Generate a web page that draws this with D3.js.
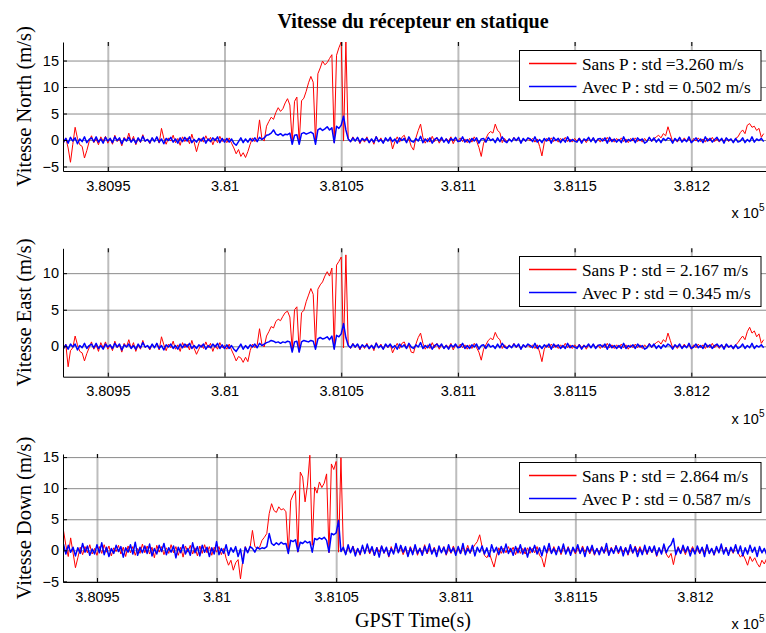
<!DOCTYPE html>
<html>
<head>
<meta charset="utf-8">
<script src="https://cdn.jsdelivr.net/npm/d3@7"></script>
<style>
  body { margin: 0; background: #fff; }
  svg { display: block; }
</style>
</head>
<body>
<div id="chart"></div>
<script>
// receiver epochs (GPST seconds), one every second
const sampleStart = 380931, sampleStep = 1;

// x tick values and their labels (x 10^5)
const xTicks = [380950, 381000, 381050, 381100, 381150, 381200];
const xTickLabels = ["3.8095", "3.81", "3.8105", "3.811", "3.8115", "3.812"];

const seriesNames = ["Sans P", "Avec P"];
const stdNorth = ["3.260", "0.502"];
const stdEast = ["2.167", "0.345"];
const stdDown = ["2.864", "0.587"];

/** North velocity, without / with P */
const northSans = [
  -0.6, 0.4, -1.5, -4.2, -0.8, 2.4, 0.3, -0.9, -1.2, -3.4,
  -2.0, -0.3, 0.8, -0.5, 0.2, -0.9, 0.6, -0.2, 0.7, -0.6,
  0.3, -0.8, 0.9, -0.3, 0.2, -1.1, 0.5, -0.2, 1.3, -0.4,
  0.7, -0.9, 0.3, -0.5, 1.0, -0.3, 0.2, -0.7, 0.4, -0.2,
  0.5, -0.6, 2.2, 0.3, -0.8, 0.4, -0.2, 0.9, -0.5, 0.3,
  -1.0, 0.6, -0.3, 0.4, -0.7, 1.1, -0.4, -2.2, -0.6, 0.3,
  -0.4, 0.8, -0.2, 0.5, -0.9, 0.3, -0.5, 0.7, -0.3, 0.2,
  -0.5, 0.4, -0.6, -1.5, -2.6, -1.8, -3.1, -2.4, -3.3, -2.2,
  -0.8, 0.4, -0.3, 0.2, 3.8, 0.3, -0.2, 2.6, 3.5, 4.3,
  3.9, 5.2, 6.1, 5.4, 5.9, 7.0, 7.8, 6.6, -0.3, 7.3,
  8.1, -0.5, 7.4, 7.9, 9.2, 10.8, 12.0, 10.9, -0.5, 12.5,
  13.6, 14.9, 14.2, 14.6, 15.4, 16.1, -0.5, 16.0, 17.4, 18.5,
  -0.2, 18.5, 0.3, -0.4, 0.6, -0.2, 0.5, -0.7, 0.3, -0.4,
  0.6, -0.5, 0.2, -0.8, 0.7, -0.3, 0.4, -0.6, 0.3, -0.2,
  0.4, -1.7, -0.3, 0.6, -0.4, 0.5, 0.9, -0.3, 0.2, -1.2,
  -1.9, 0.4, 1.8, 3.0, 0.5, -0.6, 0.3, -0.4, 0.7, -0.3,
  0.5, -0.6, 0.2, -0.4, 0.3, -0.2, 0.6, -0.7, 0.3, -0.2,
  0.4, -0.3, 0.2, -0.5, 0.3, -0.4, 0.6, -0.2, -1.4, -3.1,
  -0.6, 0.3, 1.2, 1.6, 1.3, 3.0, 1.8, 1.4, -0.5, 0.3,
  -0.4, 0.2, -0.3, 0.5, -0.2, 0.3, -0.5, 0.2, -0.3, 0.4,
  -0.2, 0.3, -0.4, 0.2, -1.2, -3.0, -0.5, 0.3, -0.2, 0.4,
  -0.3, 0.2, -0.4, 0.3, -0.2, 0.5, -0.3, 0.2, -0.4, 0.3,
  -0.2, 0.4, -0.3, 0.2, -0.5, 0.3, -0.2, 0.4, -0.3, 0.2,
  -0.4, 0.3, -0.2, 0.5, -0.3, 0.2, -0.4, 0.3, -0.2, 0.4,
  -0.3, 0.2, -0.5, 0.3, -0.2, 0.4, -0.3, 0.2, -0.4, 0.3,
  -0.2, 0.5, -0.3, 0.2, 0.6, 0.9, 0.4, 1.2, 0.8, 2.5,
  1.1, -0.3, 0.2, -0.4, 0.3, -0.2, 0.4, -0.3, 0.2, -0.5,
  0.3, -0.2, 0.4, -0.3, 0.2, -0.4, 0.3, -0.2, 0.5, -0.3,
  0.2, -0.4, 0.3, -0.2, 0.4, -0.3, 0.2, -0.5, 0.3, 0.6,
  1.4, 1.9, 1.2, 2.8, 3.1, 2.4, 2.6, 1.8, 2.2, 0.5,
  1.2
];
const northAvec = [
  -0.4, 0.3, -0.6, 0.5, -0.2, 0.4, -0.7, 0.2, -0.3, 0.6,
  -0.5, 0.1, 0.4, -0.3, 0.6, -0.4, 0.2, -0.6, 0.5, -0.2,
  0.3, -0.5, 0.6, -0.1, 0.4, -0.7, 0.3, -0.2, 0.5, -0.4,
  0.2, -0.6, 0.4, -0.3, 0.7, -0.2, 0.1, -0.5, 0.4, -0.3,
  0.6, -0.4, 0.2, -0.7, 0.3, -0.1, 0.5, -0.4, 0.2, -0.6,
  0.4, -0.3, 0.5, -0.2, 0.6, -0.5, 0.1, -0.4, 0.3, -0.2,
  0.5, -0.6, 0.2, -0.3, 0.4, -0.1, 0.6, -0.5, 0.3, -0.4,
  0.3, -0.4, 0.2, -0.6, -1.0, -0.3, 0.4, -0.5, 0.2, -0.4,
  0.3, -0.2, 0.4, -0.3, 0.5, 0.1, 0.4, 0.9, 1.0, 1.3,
  1.9, 1.1, 0.9, 1.2, 0.8, 1.1, 1.0, 1.3, -0.8, 0.9,
  1.0, -0.8, 1.2, 1.4, 1.1, 1.3, 1.5, 1.2, -0.8, 1.9,
  2.2, 1.8, 2.1, 2.5, 1.9, 2.3, -0.5, 2.6, 2.2, 2.8,
  4.5, 1.9, 0.2, -0.3, 0.4, -0.2, 0.5, -0.4, 0.3, -0.1,
  0.3, -0.5, 0.2, -0.4, 0.6, -0.3, 0.1, -0.6, 0.4, -0.2,
  0.5, -0.3, 0.2, -0.6, 0.4, -0.1, 0.3, -0.5, 0.6, -0.2,
  -0.4, 0.3, -0.2, 0.7, -0.5, 0.2, -0.3, 0.4, -0.6, 0.1,
  0.4, -0.2, 0.5, -0.4, 0.2, -0.6, 0.3, -0.1, 0.5, -0.3,
  -0.2, 0.6, -0.4, 0.1, -0.5, 0.3, -0.2, 0.4, -0.6, 0.2,
  0.3, -0.4, 0.5, -0.1, 0.2, -0.5, 0.4, -0.3, 0.6, -0.2,
  -0.5, 0.2, -0.3, 0.4, -0.1, 0.5, -0.6, 0.3, -0.2, 0.4,
  0.2, -0.3, 0.6, -0.4, 0.1, -0.5, 0.3, -0.2, 0.4, -0.6,
  0.5, -0.1, 0.3, -0.5, 0.2, -0.4, 0.6, -0.3, 0.1, -0.2,
  -0.4, 0.3, -0.6, 0.2, -0.1, 0.5, -0.3, 0.4, -0.5, 0.2,
  0.3, -0.2, 0.4, -0.6, 0.5, -0.3, 0.2, -0.4, 0.1, -0.5,
  0.6, -0.4, 0.1, -0.2, 0.3, -0.5, 0.4, -0.1, 0.2, -0.6,
  -0.3, 0.5, -0.2, 0.4, -0.4, 0.2, -0.5, 0.3, -0.1, 0.4,
  0.2, -0.6, 0.3, -0.2, 0.5, -0.4, 0.1, -0.3, 0.6, -0.5,
  -0.1, 0.4, -0.3, 0.2, -0.5, 0.6, -0.2, 0.3, -0.4, 0.1,
  0.5, -0.2, 0.3, -0.6, 0.4, -0.1, 0.2, -0.5, 0.3, -0.4,
  -0.2, 0.4, -0.5, 0.1, -0.3, 0.6, -0.4, 0.2, -0.1, 0.3,
  -0.3
];

/** East velocity */
const eastSans = [
  -0.4, 0.3, -2.8, -0.6, -0.2, 1.4, 0.2, -0.7, -0.9, -2.0,
  -1.0, -0.2, 0.6, -0.4, 0.2, -0.7, 0.5, -0.2, 0.6, -0.4,
  0.2, -0.6, 0.7, -0.2, 0.2, -0.8, 0.4, -0.1, 0.9, -0.3,
  0.5, -0.7, 0.2, -0.4, 0.8, -0.2, 0.1, -0.5, 0.3, -0.2,
  0.4, -0.5, 1.3, 0.2, -0.6, 0.3, -0.2, 0.7, -0.4, 0.2,
  -0.7, 0.5, -0.2, 0.3, -0.5, 0.8, -0.3, -1.1, -0.4, 0.2,
  -0.3, 0.6, -0.2, 0.4, -0.7, 0.2, -0.4, 0.5, -0.2, 0.1,
  -0.4, 0.3, -0.5, -1.2, -2.0, -1.4, -1.6, -2.2, -1.5, -2.1,
  -0.6, 0.3, -0.2, 0.2, 2.4, 0.3, -0.1, 1.4, 2.0, 2.7,
  2.5, 3.4, 3.7, 3.5, 4.1, 4.6, 4.8, 4.0, -0.4, 5.0,
  5.4, -0.8, 4.6, 4.9, 6.1, 7.0, 7.9, 7.1, 0.0, 7.8,
  8.4, 8.8, 9.6, 10.2, 9.6, 10.7, -0.3, 11.1, 11.6, 12.2,
  -0.2, 12.5, 0.2, -0.3, 0.4, -0.2, 0.3, -0.5, 0.2, -0.3,
  0.4, -0.4, 0.2, -0.6, 0.5, -0.2, 0.3, -0.4, 0.2, -0.2,
  0.3, -0.9, -0.2, 0.4, -0.3, 0.4, 0.6, -0.2, 0.2, -0.8,
  -0.9, 0.3, 1.2, 1.8, 0.4, -0.4, 0.2, -0.3, 0.5, -0.2,
  0.4, -0.4, 0.2, -0.3, 0.2, -0.2, 0.4, -0.5, 0.2, -0.2,
  0.3, -0.2, 0.2, -0.4, 0.2, -0.3, 0.4, -0.2, -0.8, -1.9,
  -0.4, 0.2, 0.8, 1.1, 0.9, 1.9, 1.2, 0.9, -0.3, 0.2,
  -0.3, 0.2, -0.2, 0.4, -0.2, 0.2, -0.4, 0.2, -0.2, 0.3,
  -0.2, 0.2, -0.3, 0.2, -0.8, -2.1, -0.4, 0.2, -0.2, 0.3,
  -0.2, 0.2, -0.3, 0.2, -0.2, 0.4, -0.2, 0.2, -0.3, 0.2,
  -0.2, 0.3, -0.2, 0.2, -0.4, 0.2, -0.2, 0.3, -0.2, 0.2,
  -0.3, 0.2, -0.2, 0.4, -0.2, 0.2, -0.3, 0.2, -0.2, 0.3,
  -0.2, 0.2, -0.4, 0.2, -0.2, 0.3, -0.2, 0.2, -0.3, 0.2,
  -0.2, 0.4, -0.2, 0.2, 0.5, 0.7, 0.3, 0.9, 0.6, 1.8,
  0.8, -0.2, 0.2, -0.3, 0.2, -0.2, 0.3, -0.2, 0.2, -0.4,
  0.2, -0.2, 0.3, -0.2, 0.2, -0.3, 0.2, -0.2, 0.4, -0.2,
  0.2, -0.3, 0.2, -0.2, 0.3, -0.2, 0.2, -0.4, 0.2, 0.5,
  1.0, 1.4, 0.9, 2.0, 2.6, 1.8, 2.1, 1.3, 1.7, 0.4,
  0.9
];
const eastAvec = [
  -0.3, 0.2, -0.4, 0.3, -0.1, 0.3, -0.5, 0.1, -0.2, 0.4,
  -0.3, 0.1, 0.3, -0.2, 0.4, -0.3, 0.1, -0.4, 0.3, -0.1,
  0.2, -0.3, 0.4, -0.1, 0.3, -0.5, 0.2, -0.1, 0.3, -0.3,
  0.1, -0.4, 0.3, -0.2, 0.5, -0.1, 0.1, -0.3, 0.3, -0.2,
  0.4, -0.3, 0.1, -0.5, 0.2, -0.1, 0.3, -0.3, 0.1, -0.4,
  0.3, -0.2, 0.3, -0.1, 0.4, -0.3, 0.1, -0.3, 0.2, -0.1,
  0.3, -0.4, 0.1, -0.2, 0.3, -0.1, 0.4, -0.3, 0.2, -0.3,
  0.2, -0.3, 0.1, -0.4, -0.7, -0.2, 0.3, -0.4, 0.1, -0.3,
  0.2, -0.1, 0.3, -0.2, 0.4, 0.1, 0.3, 0.5, 0.6, 0.8,
  0.7, 0.5, 0.6, 0.4, 0.6, 0.5, 0.7, 0.6, -0.8, 0.6,
  0.7, -0.8, 0.6, 0.8, 0.7, 0.6, 0.8, 0.7, -0.4, 1.0,
  1.2, 1.0, 1.1, 1.3, 0.9, 1.4, -0.4, 1.5, 1.3, 1.7,
  3.1, 1.2, 0.1, -0.2, 0.3, -0.1, 0.3, -0.3, 0.2, -0.1,
  0.2, -0.3, 0.1, -0.3, 0.4, -0.2, 0.1, -0.4, 0.3, -0.1,
  0.3, -0.2, 0.1, -0.4, 0.3, -0.1, 0.2, -0.3, 0.4, -0.1,
  -0.3, 0.2, -0.1, 0.5, -0.3, 0.1, -0.2, 0.3, -0.4, 0.1,
  0.3, -0.1, 0.3, -0.3, 0.1, -0.4, 0.2, -0.1, 0.3, -0.2,
  -0.1, 0.4, -0.3, 0.1, -0.3, 0.2, -0.1, 0.3, -0.4, 0.1,
  0.2, -0.3, 0.3, -0.1, 0.1, -0.3, 0.3, -0.2, 0.4, -0.1,
  -0.3, 0.1, -0.2, 0.3, -0.1, 0.3, -0.4, 0.2, -0.1, 0.3,
  0.1, -0.2, 0.4, -0.3, 0.1, -0.3, 0.2, -0.1, 0.3, -0.4,
  0.3, -0.1, 0.2, -0.3, 0.1, -0.3, 0.4, -0.2, 0.1, -0.1,
  -0.3, 0.2, -0.4, 0.1, -0.1, 0.3, -0.2, 0.3, -0.3, 0.1,
  0.2, -0.1, 0.3, -0.4, 0.3, -0.2, 0.1, -0.3, 0.1, -0.3,
  0.4, -0.3, 0.1, -0.1, 0.2, -0.3, 0.3, -0.1, 0.1, -0.4,
  -0.2, 0.3, -0.1, 0.3, -0.3, 0.1, -0.3, 0.2, -0.1, 0.3,
  0.1, -0.4, 0.2, -0.1, 0.3, -0.3, 0.1, -0.2, 0.4, -0.3,
  -0.1, 0.3, -0.2, 0.1, -0.3, 0.4, -0.1, 0.2, -0.3, 0.1,
  0.3, -0.1, 0.2, -0.4, 0.3, -0.1, 0.1, -0.3, 0.2, -0.3,
  -0.1, 0.3, -0.3, 0.1, -0.2, 0.4, -0.3, 0.1, -0.1, 0.2,
  -0.2
];

/** Down velocity */
const downSans = [
  0.4, -0.6, 0.5, -0.3, 0.7, 3.2, 0.8, -1.0, 2.0, -0.4,
  -2.8, -1.2, 0.5, -0.7, 0.6, -0.4, 0.9, -0.6, 0.3, -0.8,
  0.6, -0.5, 0.9, -0.3, 0.7, -0.9, 0.4, -0.2, 0.8, -0.6,
  0.5, -1.0, 0.7, -0.4, 0.6, -0.8, 0.3, -0.5, 1.0, -0.4,
  0.7, -0.6, 0.5, -1.2, 0.8, -0.3, 0.6, -0.7, 0.4, -0.5,
  0.9, -0.4, 0.6, -0.8, 0.5, -1.1, 0.7, -0.3, 0.8, -0.6,
  0.4, -0.9, 0.7, -0.5, 0.9, -0.4, 0.6, -0.8, 0.5, -0.3,
  0.6, -0.7, 0.3, -1.3, -2.4, -1.6, -3.2, -2.0, -1.5, -4.6,
  -1.5, 0.6, -0.3, 0.4, 3.2, 0.6, 0.3, 0.5, 1.6, 2.1,
  2.7, 5.9, 7.5, 6.4, 6.1, 7.0, 6.5, 6.7, 6.2, -0.5,
  8.0, 8.9, 9.6, -0.3, 12.6, 11.8, 7.8, 10.5, 15.3, 0.8,
  10.2, 9.2, 11.0, 10.1, 10.8, 12.3, -0.4, 13.9, 13.0, 14.3,
  -0.3, 14.9, 0.2, -0.6, 0.5, -0.4, 0.7, -0.5, 0.3, -0.8,
  0.6, -0.4, 0.8, -0.6, 0.4, -0.9, 0.5, -0.3, 0.7, -0.5,
  0.4, -1.1, 0.6, -0.5, 0.8, -0.4, 0.5, -0.7, 0.3, -0.9,
  0.6, -0.4, 0.7, -0.8, 0.4, -0.5, 0.9, -0.6, 0.3, -0.4,
  0.5, -0.7, 0.4, -0.3, 0.6, -0.8, 0.3, -0.5, 0.7, -0.4,
  0.4, -0.6, 0.5, -0.3, 0.8, -0.5, 0.3, 0.9, 1.4, 2.5,
  0.6, -0.8, -1.2, -0.4, -1.6, -2.7, -0.9, 0.4, -0.5, 0.3,
  -0.4, 0.6, -0.3, 0.5, -0.7, 0.4, -0.5, 0.3, -0.6, 0.4,
  -0.5, 0.3, -0.4, 0.6, -0.8, -1.3, -2.7, -0.6, 0.4, -0.5,
  0.6, -0.3, 0.5, -0.7, 0.4, -0.4, 0.6, -0.5, 0.3, -0.6,
  0.4, -0.5, 0.7, -0.3, 0.5, -0.6, 0.4, -0.8, 0.3, -0.4,
  0.6, -0.5, 0.3, -0.7, 0.5, -0.4, 0.8, -0.6, 0.4, -0.3,
  0.5, -0.8, 0.4, -0.5, 0.7, -0.3, 0.6, -0.4, 0.3, -0.7,
  0.5, -0.4, 0.6, -1.0, 0.3, -0.5, 0.8, -0.6, -1.2, -0.5,
  -2.3, -0.4, 0.6, -0.5, 0.4, -0.7, 0.5, -0.3, 0.6, -0.4,
  0.3, -0.6, 0.5, -0.4, 0.7, -0.5, 0.3, -0.8, 0.4, -0.3,
  0.6, -0.4, 0.5, -0.7, 0.3, -0.5, 0.6, -0.4, -1.1, -0.6,
  -1.4, -2.4, -1.0, -1.8, -1.2, -2.1, -2.7, -1.6, -2.2, -1.3,
  -0.8
];
const downAvec = [
  0.6, -0.4, 0.9, -0.7, 0.3, 1.0, -0.6, 0.8, -0.3, 0.5,
  -0.9, 0.4, -0.5, 1.1, -0.3, 0.7, -0.8, 0.2, -0.6, 0.9,
  -0.4, 1.2, -0.7, 0.5, -1.0, 0.3, -0.5, 0.8, -0.2, 0.6,
  -1.1, 0.4, -0.3, 0.9, -0.6, 1.3, -0.8, 0.5, -0.4, 0.7,
  -0.5, 1.0, -0.9, 0.3, -0.6, 0.8, -0.2, 1.1, -0.7, 0.4,
  -0.3, 0.7, -1.2, 0.5, -0.4, 0.9, -0.6, 0.3, -0.8, 1.2,
  -0.4, 0.6, -0.9, 0.8, -0.3, 0.5, -1.0, 0.4, -0.6, 1.4,
  -0.7, 0.3, -0.5, 0.9, -0.8, 0.4, -0.3, 0.6, -1.0, 0.2,
  -2.1, 0.5, -0.4, 0.6, 0.3, -0.3, 0.5, 0.2, 0.4, 0.3,
  0.6, 2.7, 1.1, 0.8, 1.2, 0.9, 1.3, 1.0, 1.1, -0.5,
  1.6, 1.4, 1.7, -0.2, 1.3, 1.1, 1.5, 1.2, 1.4, -0.3,
  1.9, 1.7, 2.0, 1.8, 2.1, 1.6, -0.3, 2.7, 2.5, 2.8,
  4.8, -0.2, 0.5, -0.7, 0.9, -0.4, 0.6, -0.9, 0.3, -0.6,
  0.8, -0.5, 1.0, -0.3, 0.6, -0.8, 0.4, -1.1, 0.7, -0.4,
  0.5, -0.9, 0.3, -0.6, 1.1, -0.4, 0.8, -0.3, 0.6, -1.0,
  0.4, -0.7, 0.9, -0.5, 0.3, -0.8, 0.6, -0.4, 1.0, -0.6,
  0.3, -1.0, 0.7, -0.4, 0.5, -0.6, 0.9, -0.3, 0.4, -0.8,
  0.6, -0.5, 1.1, -0.7, 0.3, -0.4, 0.8, -0.9, 0.5, -0.3,
  0.7, -0.6, 0.4, -1.0, 0.9, -0.3, 0.5, -0.7, 0.6, -0.4,
  1.0, -0.5, 0.3, -0.8, 0.6, -0.4, 0.9, -0.6, 0.4, -1.1,
  0.5, -0.3, 0.8, -0.6, 0.4, -0.9, 0.7, -0.4, 1.1, -0.5,
  0.3, -0.7, 0.6, -0.4, 1.0, -0.6, 0.4, -0.8, 0.5, -0.3,
  0.9, -0.5, 0.4, -1.0, 0.6, -0.3, 0.8, -0.6, 0.3, -0.7,
  0.5, -0.4, 1.1, -0.8, 0.3, -0.5, 0.7, -0.3, 0.6, -0.9,
  0.4, -0.6, 0.9, -0.4, 0.5, -1.0, 0.3, -0.7, 0.8, -0.5,
  0.6, -0.3, 0.7, -0.8, 0.4, -0.6, 1.0, -0.4, 0.5, 0.9,
  1.9, -0.7, 0.4, -0.5, 0.8, -0.3, 0.6, -0.9, 0.3, -0.6,
  0.7, -0.4, 0.5, -1.0, 0.9, -0.5, 0.3, -0.7, 0.6, -0.4,
  1.0, -0.6, 0.4, -0.8, 0.5, -0.3, 0.9, -0.5, 0.7, -0.9,
  0.4, -0.6, 0.8, -0.3, 0.5, -1.0, 0.6, -0.4, 0.3, -0.7,
  0.5
];

/** Set up canvas */
const width = 766, height = 633;
const serif = "'Liberation Serif', 'Times New Roman', serif";
const sans = "'Liberation Sans', Arial, sans-serif";
const colors = ["#ff0000", "#0000ff"];

const svg = d3.select('#chart').append('svg')
    .attr('width', width)
    .attr('height', height);

svg.append('text')
    .attr('x', 413)
    .attr('y', 28)
    .attr('text-anchor', 'middle')
    .style('font-family', serif)
    .style('font-weight', 'bold')
    .style('font-size', '20px')
    .text('Vitesse du récepteur en statique');

const panels = [
    { top: 42, bottom: 171, yDomain: [-5.85, 18.5], yTicks: [-5, 0, 5, 10, 15],
      xDomain: [380930.8, 381232], label: 'Vitesse North (m/s)',
      series: [northSans, northAvec], std: stdNorth, eq: [' =', ' = '] },
    { top: 248.3, bottom: 376.7, yDomain: [-4.16, 13.4], yTicks: [0, 5, 10],
      xDomain: [380930.8, 381232], label: 'Vitesse East (m/s)',
      series: [eastSans, eastAvec], std: stdEast, eq: [' = ', ' = '] },
    { top: 454, bottom: 582, yDomain: [-5.1, 15.5], yTicks: [-5, 0, 5, 10, 15],
      xDomain: [380935.8, 381229.7], label: 'Vitesse Down (m/s)',
      series: [downSans, downAvec], std: stdDown, eq: [' = ', ' = '] }
];

const axLeft = 63, axRight = 766;

panels.forEach(function (p, pi) {
    let x = d3.scaleLinear().domain(p.xDomain).range([axLeft, axRight]);
    let y = d3.scaleLinear().domain(p.yDomain).range([p.bottom, p.top]);
    let h = p.bottom - p.top;
    let g = svg.append('g');

    /** grid */
    let vgrid = g.append('g')
        .attr('transform', `translate(0, ${p.bottom})`)
        .call(d3.axisBottom(x).tickValues(xTicks).tickSize(-h).tickFormat(''));
    vgrid.select('.domain').remove();
    vgrid.selectAll('line').attr('stroke', '#bdbdbd').attr('stroke-width', 2);

    let hgrid = g.append('g')
        .attr('transform', `translate(${axLeft}, 0)`)
        .call(d3.axisLeft(y).tickValues(p.yTicks).tickSize(-(axRight - axLeft)).tickFormat(''));
    hgrid.select('.domain').remove();
    hgrid.selectAll('line').attr('stroke', '#8a8a8a').attr('stroke-width', 1);

    /** lines */
    let clipId = 'clip' + pi;
    svg.append('clipPath').attr('id', clipId)
        .append('rect')
        .attr('x', axLeft).attr('y', p.top)
        .attr('width', axRight - axLeft).attr('height', h);

    let lineGen = d3.line()
        .x(function (d, i) { return x(sampleStart + i * sampleStep); })
        .y(function (d) { return y(d); });

    g.append('g').attr('clip-path', `url(#${clipId})`)
        .selectAll('.line')
        .data(p.series)
        .enter()
        .append('path')
        .attr('class', 'line')
        .attr('d', lineGen)
        .attr('fill', 'none')
        .attr('stroke', function (d, i) { return colors[i]; })
        .attr('stroke-width', function (d, i) { return i === 0 ? 1 : 1.5; })
        .attr('stroke-linejoin', 'round');

    /** axes */
    let xAxis = g.append('g')
        .attr('transform', `translate(0, ${p.bottom})`)
        .call(d3.axisBottom(x).tickValues(xTicks)
            .tickFormat(function (d, i) { return xTickLabels[i]; })
            .tickSizeInner(-4).tickSizeOuter(0).tickPadding(9.5));
    xAxis.select('.domain').attr('stroke', '#000');
    xAxis.selectAll('text')
        .style('font-family', sans).style('font-size', '14.5px').attr('fill', '#000');

    let topTicks = g.append('g')
        .attr('transform', `translate(0, ${p.top})`)
        .call(d3.axisTop(x).tickValues(xTicks).tickFormat('').tickSizeInner(-4).tickSizeOuter(0));
    topTicks.select('.domain').remove();

    let yAxis = g.append('g')
        .attr('transform', `translate(${axLeft}, 0)`)
        .call(d3.axisLeft(y).tickValues(p.yTicks)
            .tickSizeInner(-4).tickSizeOuter(0).tickPadding(4));
    yAxis.select('.domain').attr('stroke', '#000');
    yAxis.selectAll('text')
        .style('font-family', sans).style('font-size', '14.5px').attr('fill', '#000');

    /** exponent label */
    let expo = g.append('text')
        .attr('x', 731.5)
        .attr('y', p.bottom + 47)
        .style('font-family', sans)
        .style('font-size', '14.5px')
        .text('x 10');
    expo.append('tspan')
        .attr('dy', -7)
        .style('font-size', '10px')
        .text('5');

    /** y label */
    g.append('text')
        .attr('transform', `translate(31, ${(p.top + p.bottom) / 2}) rotate(-90)`)
        .attr('text-anchor', 'middle')
        .style('font-family', serif)
        .style('font-size', '20.5px')
        .text(p.label);

    /** legend */
    let lg = g.append('g').attr('transform', `translate(519.5, ${Math.round(p.top + 8) + 0.5})`);
    lg.append('rect')
        .attr('width', 241.5).attr('height', 50)
        .attr('fill', '#fff').attr('stroke', '#000').attr('stroke-width', 1);
    seriesNames.forEach(function (name, i) {
        let ly = 13 + i * 23;
        lg.append('line')
            .attr('x1', 9.5).attr('x2', 57)
            .attr('y1', ly).attr('y2', ly)
            .attr('stroke', colors[i]).attr('stroke-width', 1.6);
        lg.append('text')
            .attr('x', 62.5).attr('y', ly + 6)
            .style('font-family', serif)
            .style('font-size', '17.3px')
            .text(`${name} : std${p.eq[i]}${p.std[i]} m/s`);
    });
});

svg.append('text')
    .attr('x', 413)
    .attr('y', 627)
    .attr('text-anchor', 'middle')
    .style('font-family', serif)
    .style('font-size', '20px')
    .text('GPST Time(s)');
</script>
</body>
</html>
